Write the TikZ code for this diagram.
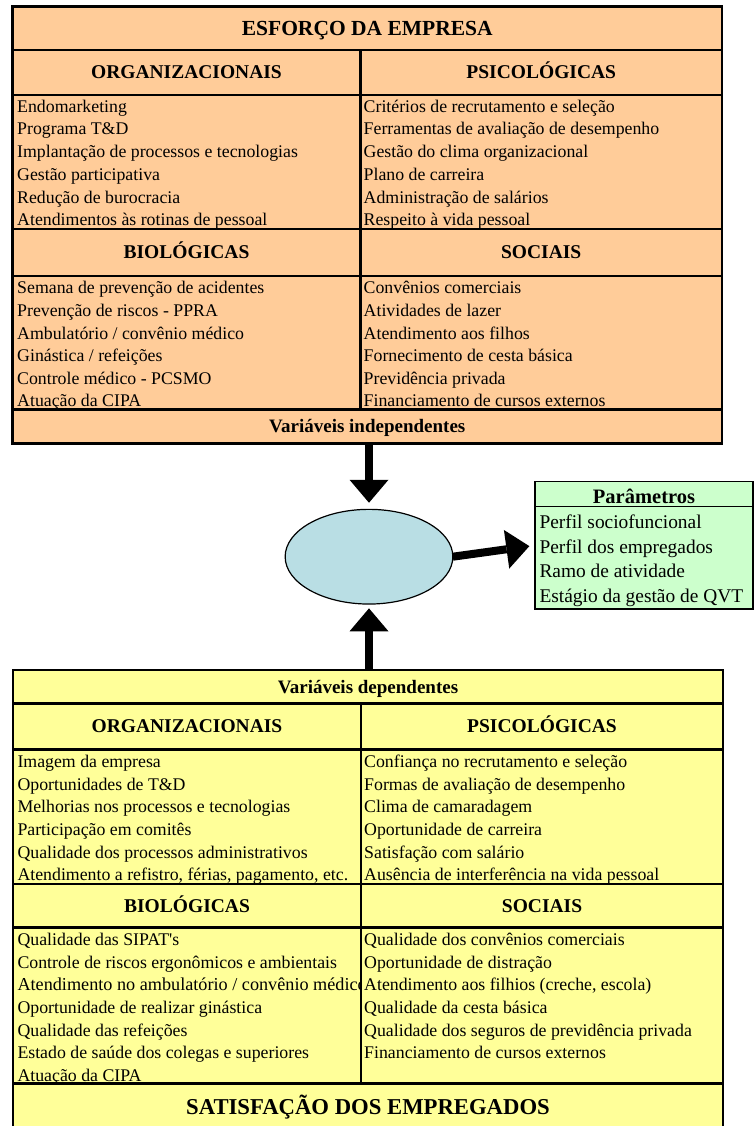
\documentclass[tikz,border=0pt]{standalone}
\usepackage{fontspec}
\setmainfont{Liberation Serif}
\usepackage{tikz}
\usetikzlibrary{positioning,arrows.meta,shapes.geometric}

\definecolor{peach}{RGB}{255,204,153}
\definecolor{paleyellow}{RGB}{255,255,153}
\definecolor{mint}{RGB}{204,255,204}
\definecolor{paleblue}{RGB}{185,222,228}

\tikzset{
  cell/.style={draw, line width=2.4pt, inner sep=0pt, outer sep=0pt},
  cellhead/.style={font=\fontsize{19.5}{22}\selectfont\bfseries, text height=12.9pt, text depth=0pt},
  itemtxt/.style={font=\fontsize{17.8}{22.3}\selectfont, inner sep=0pt, text height=12.6pt, text depth=4.2pt},
  paramtxt/.style={font=\fontsize{19.4}{24}\selectfont, inner sep=0pt, text height=13.7pt, text depth=4.6pt},
  bigarrow/.style={line width=8pt, -{Triangle[length=23pt,width=39pt,line width=0pt]}}
}

\begin{document}
\begin{tikzpicture}[x=1pt,y=1pt]

  \useasboundingbox (0,0) rectangle (754,-1126);
  \clip (0,0) rectangle (754,-1126);

  % esforco da empresa
  \node[cell,fill=peach,cellhead,font=\fontsize{21.5}{24}\selectfont\bfseries,text height=14.2pt,minimum width=709.5pt,minimum height=43.5pt] (esf) at (367.25,-28.25) {ESFORÇO DA EMPRESA};
  \node[cell,fill=peach,cellhead,minimum width=348pt,minimum height=45pt] (eorg) at (186.5,-72.5) {ORGANIZACIONAIS};
  \node[cell,fill=peach,cellhead,minimum width=361.5pt,minimum height=45pt] (epsi) at (541.25,-72.5) {PSICOLÓGICAS};
  \node[cell,fill=peach,minimum width=348pt,minimum height=134pt] (eorgb) at (186.5,-162) {};
  \node[cell,fill=peach,minimum width=361.5pt,minimum height=134pt] (epsib) at (541.25,-162) {};
  \node[cell,fill=peach,cellhead,minimum width=348pt,minimum height=47pt] (ebio) at (186.5,-252.5) {BIOLÓGICAS};
  \node[cell,fill=peach,cellhead,minimum width=361.5pt,minimum height=47pt] (esoc) at (541.25,-252.5) {SOCIAIS};
  \node[cell,fill=peach,minimum width=348pt,minimum height=133.5pt] (ebiob) at (186.5,-342.75) {};
  \node[cell,fill=peach,minimum width=361.5pt,minimum height=133.5pt] (esocb) at (541.25,-342.75) {};
  \node[cell,fill=peach,cellhead,font=\fontsize{19}{22}\selectfont\bfseries,minimum width=709.5pt,minimum height=34pt] (vind) at (367.25,-426.5) {Variáveis independentes};

  \node[itemtxt,anchor=base west] (eo1) at (17,-112.3) {Endomarketing};
  \node[itemtxt] (eo2) [below=5.5pt of eo1.south west,anchor=north west] {Programa T\&D};
  \node[itemtxt] (eo3) [below=5.5pt of eo2.south west,anchor=north west] {Implantação de processos e tecnologias};
  \node[itemtxt] (eo4) [below=5.5pt of eo3.south west,anchor=north west] {Gestão participativa};
  \node[itemtxt] (eo5) [below=5.5pt of eo4.south west,anchor=north west] {Redução de burocracia};
  \node[itemtxt] (eo6) [below=5.5pt of eo5.south west,anchor=north west] {Atendimentos às rotinas de pessoal};

  \node[itemtxt,anchor=base west] (ep1) at (363.5,-112.3) {Critérios de recrutamento e seleção};
  \node[itemtxt] (ep2) [below=5.5pt of ep1.south west,anchor=north west] {Ferramentas de avaliação de desempenho};
  \node[itemtxt] (ep3) [below=5.5pt of ep2.south west,anchor=north west] {Gestão do clima organizacional};
  \node[itemtxt] (ep4) [below=5.5pt of ep3.south west,anchor=north west] {Plano de carreira};
  \node[itemtxt] (ep5) [below=5.5pt of ep4.south west,anchor=north west] {Administração de salários};
  \node[itemtxt] (ep6) [below=5.5pt of ep5.south west,anchor=north west] {Respeito à vida pessoal};

  \node[itemtxt,anchor=base west] (eb1) at (17,-293.9) {Semana de prevenção de acidentes};
  \node[itemtxt] (eb2) [below=5.4pt of eb1.south west,anchor=north west] {Prevenção de riscos - PPRA};
  \node[itemtxt] (eb3) [below=5.4pt of eb2.south west,anchor=north west] {Ambulatório / convênio médico};
  \node[itemtxt] (eb4) [below=5.4pt of eb3.south west,anchor=north west] {Ginástica / refeições};
  \node[itemtxt] (eb5) [below=5.4pt of eb4.south west,anchor=north west] {Controle médico - PCSMO};
  \node[itemtxt] (eb6) [below=5.4pt of eb5.south west,anchor=north west] {Atuação da CIPA};

  \node[itemtxt,anchor=base west] (es1) at (363.5,-293.9) {Convênios comerciais};
  \node[itemtxt] (es2) [below=5.4pt of es1.south west,anchor=north west] {Atividades de lazer};
  \node[itemtxt] (es3) [below=5.4pt of es2.south west,anchor=north west] {Atendimento aos filhos};
  \node[itemtxt] (es4) [below=5.4pt of es3.south west,anchor=north west] {Fornecimento de cesta básica};
  \node[itemtxt] (es5) [below=5.4pt of es4.south west,anchor=north west] {Previdência privada};
  \node[itemtxt] (es6) [below=5.4pt of es5.south west,anchor=north west] {Financiamento de cursos externos};

  % centro e parametros
  \node[ellipse,draw,line width=1.2pt,fill=paleblue,inner sep=0pt,outer sep=0pt,minimum width=167.7pt,minimum height=94.7pt] (ell) at (369,-556.7) {};

  \node[cell,line width=1.5pt,fill=mint,minimum width=218pt,minimum height=127.3pt] (pbox) at (644,-545.35) {};
  \node[cellhead,font=\fontsize{20.5}{24}\selectfont\bfseries,text height=18.9pt,inner sep=0pt,outer sep=0pt,minimum width=218pt,minimum height=24.3pt] (phead) at (644,-493.85) {Parâmetros};
  \draw[line width=1pt] (phead.south west) -- (phead.south east);

  \node[paramtxt,anchor=base west] (pa1) at (539.3,-528.4) {Perfil sociofuncional};
  \node[paramtxt] (pa2) [below=5.9pt of pa1.south west,anchor=north west] {Perfil dos empregados};
  \node[paramtxt] (pa3) [below=5.9pt of pa2.south west,anchor=north west] {Ramo de atividade};
  \node[paramtxt] (pa4) [below=5.9pt of pa3.south west,anchor=north west] {Estágio da gestão de QVT};

  % satisfacao dos empregados
  \node[cell,fill=paleyellow,cellhead,font=\fontsize{19}{22}\selectfont\bfseries,minimum width=710pt,minimum height=33.5pt] (vdep) at (368,-686.75) {Variáveis dependentes};
  \node[cell,fill=paleyellow,cellhead,minimum width=348pt,minimum height=46pt] (sorg) at (187,-726.5) {ORGANIZACIONAIS};
  \node[cell,fill=paleyellow,cellhead,minimum width=362pt,minimum height=46pt] (spsi) at (542,-726.5) {PSICOLÓGICAS};
  \node[cell,fill=paleyellow,minimum width=348pt,minimum height=134.5pt] (sorgb) at (187,-816.75) {};
  \node[cell,fill=paleyellow,minimum width=362pt,minimum height=134.5pt] (spsib) at (542,-816.75) {};
  \node[cell,fill=paleyellow,cellhead,minimum width=348pt,minimum height=43.5pt] (sbio) at (187,-905.75) {BIOLÓGICAS};
  \node[cell,fill=paleyellow,cellhead,minimum width=362pt,minimum height=43.5pt] (ssoc) at (542,-905.75) {SOCIAIS};
  \node[cell,fill=paleyellow,minimum width=348pt,minimum height=156pt] (sbiob) at (187,-1005.5) {};
  \node[cell,fill=paleyellow,minimum width=362pt,minimum height=156pt] (ssocb) at (542,-1005.5) {};
  \node[cell,fill=paleyellow,cellhead,font=\fontsize{22.7}{26}\selectfont\bfseries,text height=15pt,minimum width=710pt,minimum height=47.5pt] (sat) at (368,-1107.25) {SATISFAÇÃO DOS EMPREGADOS};

  \node[itemtxt,anchor=base west] (so1) at (17.3,-767.3) {Imagem da empresa};
  \node[itemtxt] (so2) [below=5.5pt of so1.south west,anchor=north west] {Oportunidades de T\&D};
  \node[itemtxt] (so3) [below=5.5pt of so2.south west,anchor=north west] {Melhorias nos processos e tecnologias};
  \node[itemtxt] (so4) [below=5.5pt of so3.south west,anchor=north west] {Participação em comitês};
  \node[itemtxt] (so5) [below=5.5pt of so4.south west,anchor=north west] {Qualidade dos processos administrativos};
  \node[itemtxt] (so6) [below=5.5pt of so5.south west,anchor=north west] {Atendimento a refistro, férias, pagamento, etc.};

  \node[itemtxt,anchor=base west] (sp1) at (364,-767.3) {Confiança no recrutamento e seleção};
  \node[itemtxt] (sp2) [below=5.5pt of sp1.south west,anchor=north west] {Formas de avaliação de desempenho};
  \node[itemtxt] (sp3) [below=5.5pt of sp2.south west,anchor=north west] {Clima de camaradagem};
  \node[itemtxt] (sp4) [below=5.5pt of sp3.south west,anchor=north west] {Oportunidade de carreira};
  \node[itemtxt] (sp5) [below=5.5pt of sp4.south west,anchor=north west] {Satisfação com salário};
  \node[itemtxt] (sp6) [below=5.5pt of sp5.south west,anchor=north west] {Ausência de interferência na vida pessoal};

  \begin{scope}
    \clip (sbiob.north west) rectangle (sbiob.south east);
    \node[itemtxt,anchor=base west] (sb1) at (17.3,-945.6) {Qualidade das SIPAT\textquotesingle s};
    \node[itemtxt] (sb2) [below=5.4pt of sb1.south west,anchor=north west] {Controle de riscos ergonômicos e ambientais};
    \node[itemtxt,font=\fontsize{18.2}{22.3}\selectfont] (sb3) [below=5.4pt of sb2.south west,anchor=north west] {Atendimento no ambulatório / convênio médico};
    \node[itemtxt] (sb4) [below=5.4pt of sb3.south west,anchor=north west] {Oportunidade de realizar ginástica};
    \node[itemtxt] (sb5) [below=5.4pt of sb4.south west,anchor=north west] {Qualidade das refeições};
    \node[itemtxt] (sb6) [below=5.4pt of sb5.south west,anchor=north west] {Estado de saúde dos colegas e superiores};
    \node[itemtxt] (sb7) [below=5.4pt of sb6.south west,anchor=north west] {Atuação da CIPA};
  \end{scope}

  \node[itemtxt,anchor=base west] (ss1) at (364,-945.6) {Qualidade dos convênios comerciais};
  \node[itemtxt] (ss2) [below=5.4pt of ss1.south west,anchor=north west] {Oportunidade de distração};
  \node[itemtxt] (ss3) [below=5.4pt of ss2.south west,anchor=north west] {Atendimento aos filhios (creche, escola)};
  \node[itemtxt] (ss4) [below=5.4pt of ss3.south west,anchor=north west] {Qualidade da cesta básica};
  \node[itemtxt] (ss5) [below=5.4pt of ss4.south west,anchor=north west] {Qualidade dos seguros de previdência privada};
  \node[itemtxt] (ss6) [below=5.4pt of ss5.south west,anchor=north west] {Financiamento de cursos externos};

  % setas
  \draw[bigarrow,shorten >=6.6pt] (vind.south -| ell.north) -- (ell.north);
  \draw[bigarrow,shorten >=4.3pt] (vdep.north -| ell.south) -- (ell.south);
  \draw[bigarrow,shorten >=5.7pt] (ell.east) -- (pbox.west);

\end{tikzpicture}
\end{document}
